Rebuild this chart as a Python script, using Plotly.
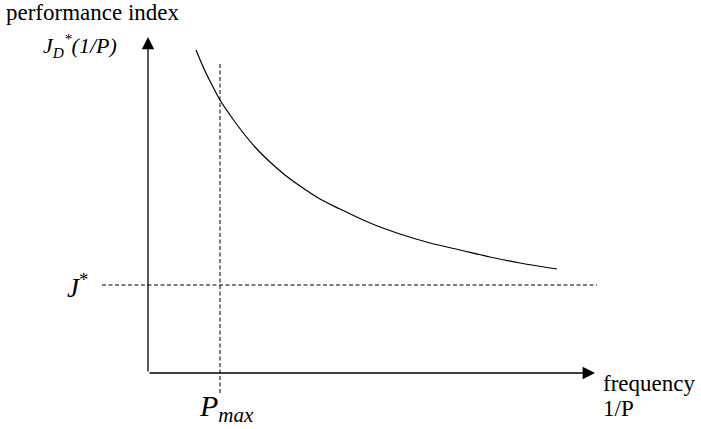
import plotly.graph_objects as go

# Data (arbitrary units: frequency 1/P on x, performance index on y; origin at the axes' corner)
curve_freq = [48, 57, 64, 72, 82, 93, 107, 122, 137, 152, 172, 192, 222, 252, 282, 312, 342, 372, 409]
curve_perf = [323, 302, 288, 273, 258, 243, 226, 211, 198, 187, 174, 164, 150, 139, 130, 123, 116, 110, 104]

x_axis_end = 447     # arrow tip on frequency axis
y_axis_end = 336     # arrow tip on performance axis
p_max = 72           # 1/P_max position
p_max_span = [-20, 311]
j_star = 88          # J* level
j_star_span = [-46, 449]

FONT = "Liberation Serif"

fig = go.Figure()

# dashed reference lines
fig.add_trace(go.Scatter(x=[p_max, p_max], y=p_max_span, mode="lines",
                         line=dict(color="black", width=1, dash="4px,2.5px"),
                         hoverinfo="skip", showlegend=False))
fig.add_trace(go.Scatter(x=j_star_span, y=[j_star, j_star], mode="lines",
                         line=dict(color="black", width=1, dash="4px,2.5px"),
                         hoverinfo="skip", showlegend=False))
# curve
fig.add_trace(go.Scatter(x=curve_freq, y=curve_perf, mode="lines",
                         line=dict(color="black", width=1.2, shape="spline"),
                         hoverinfo="skip", showlegend=False))

annotations = [
    # axes with arrows
    dict(x=0, y=y_axis_end, ax=0, ay=0, xref="x", yref="y", axref="x", ayref="y",
         showarrow=True, arrowhead=2, arrowsize=1.9, arrowwidth=1.3, arrowcolor="black", text=""),
    dict(x=x_axis_end, y=0, ax=0, ay=0, xref="x", yref="y", axref="x", ayref="y",
         showarrow=True, arrowhead=2, arrowsize=1.9, arrowwidth=1.3, arrowcolor="black", text=""),
    # labels
    dict(x=-144, y=361, xref="x", yref="y", xanchor="left", yanchor="middle", showarrow=False,
         text="performance index", font=dict(family=FONT, size=23, color="black")),
    dict(x=-107, y=328, xref="x", yref="y", xanchor="left", yanchor="middle", showarrow=False,
         text="<i>J<sub>D</sub><sup>*</sup>(1/P)</i>", font=dict(family=FONT, size=22, color="black")),
    dict(x=-83, y=87, xref="x", yref="y", xanchor="left", yanchor="middle", showarrow=False,
         text="<i>J</i><sup>*</sup>", font=dict(family=FONT, size=27, color="black")),
    dict(x=49, y=-35, xref="x", yref="y", xanchor="left", yanchor="middle", showarrow=False,
         text="<i>P</i><sub><i>max</i></sub>", font=dict(family=FONT, size=30, color="black")),
    dict(x=453, y=-10, xref="x", yref="y", xanchor="left", yanchor="middle", showarrow=False,
         text="frequency", font=dict(family=FONT, size=23, color="black")),
    dict(x=453, y=-35, xref="x", yref="y", xanchor="left", yanchor="middle", showarrow=False,
         text="1/P", font=dict(family=FONT, size=23, color="black")),
]

fig.update_layout(
    width=701, height=429,
    margin=dict(l=0, r=0, t=0, b=0),
    paper_bgcolor="white", plot_bgcolor="white",
    xaxis=dict(range=[-148, 553], visible=False, fixedrange=True),
    yaxis=dict(range=[-56, 373], visible=False, fixedrange=True),
    annotations=annotations,
    showlegend=False,
)

# remove the default 8px page margin so the figure fills the window exactly
fig.write_html("out.html", config={"displayModeBar": False},
               post_script="document.body.style.margin='0';")
